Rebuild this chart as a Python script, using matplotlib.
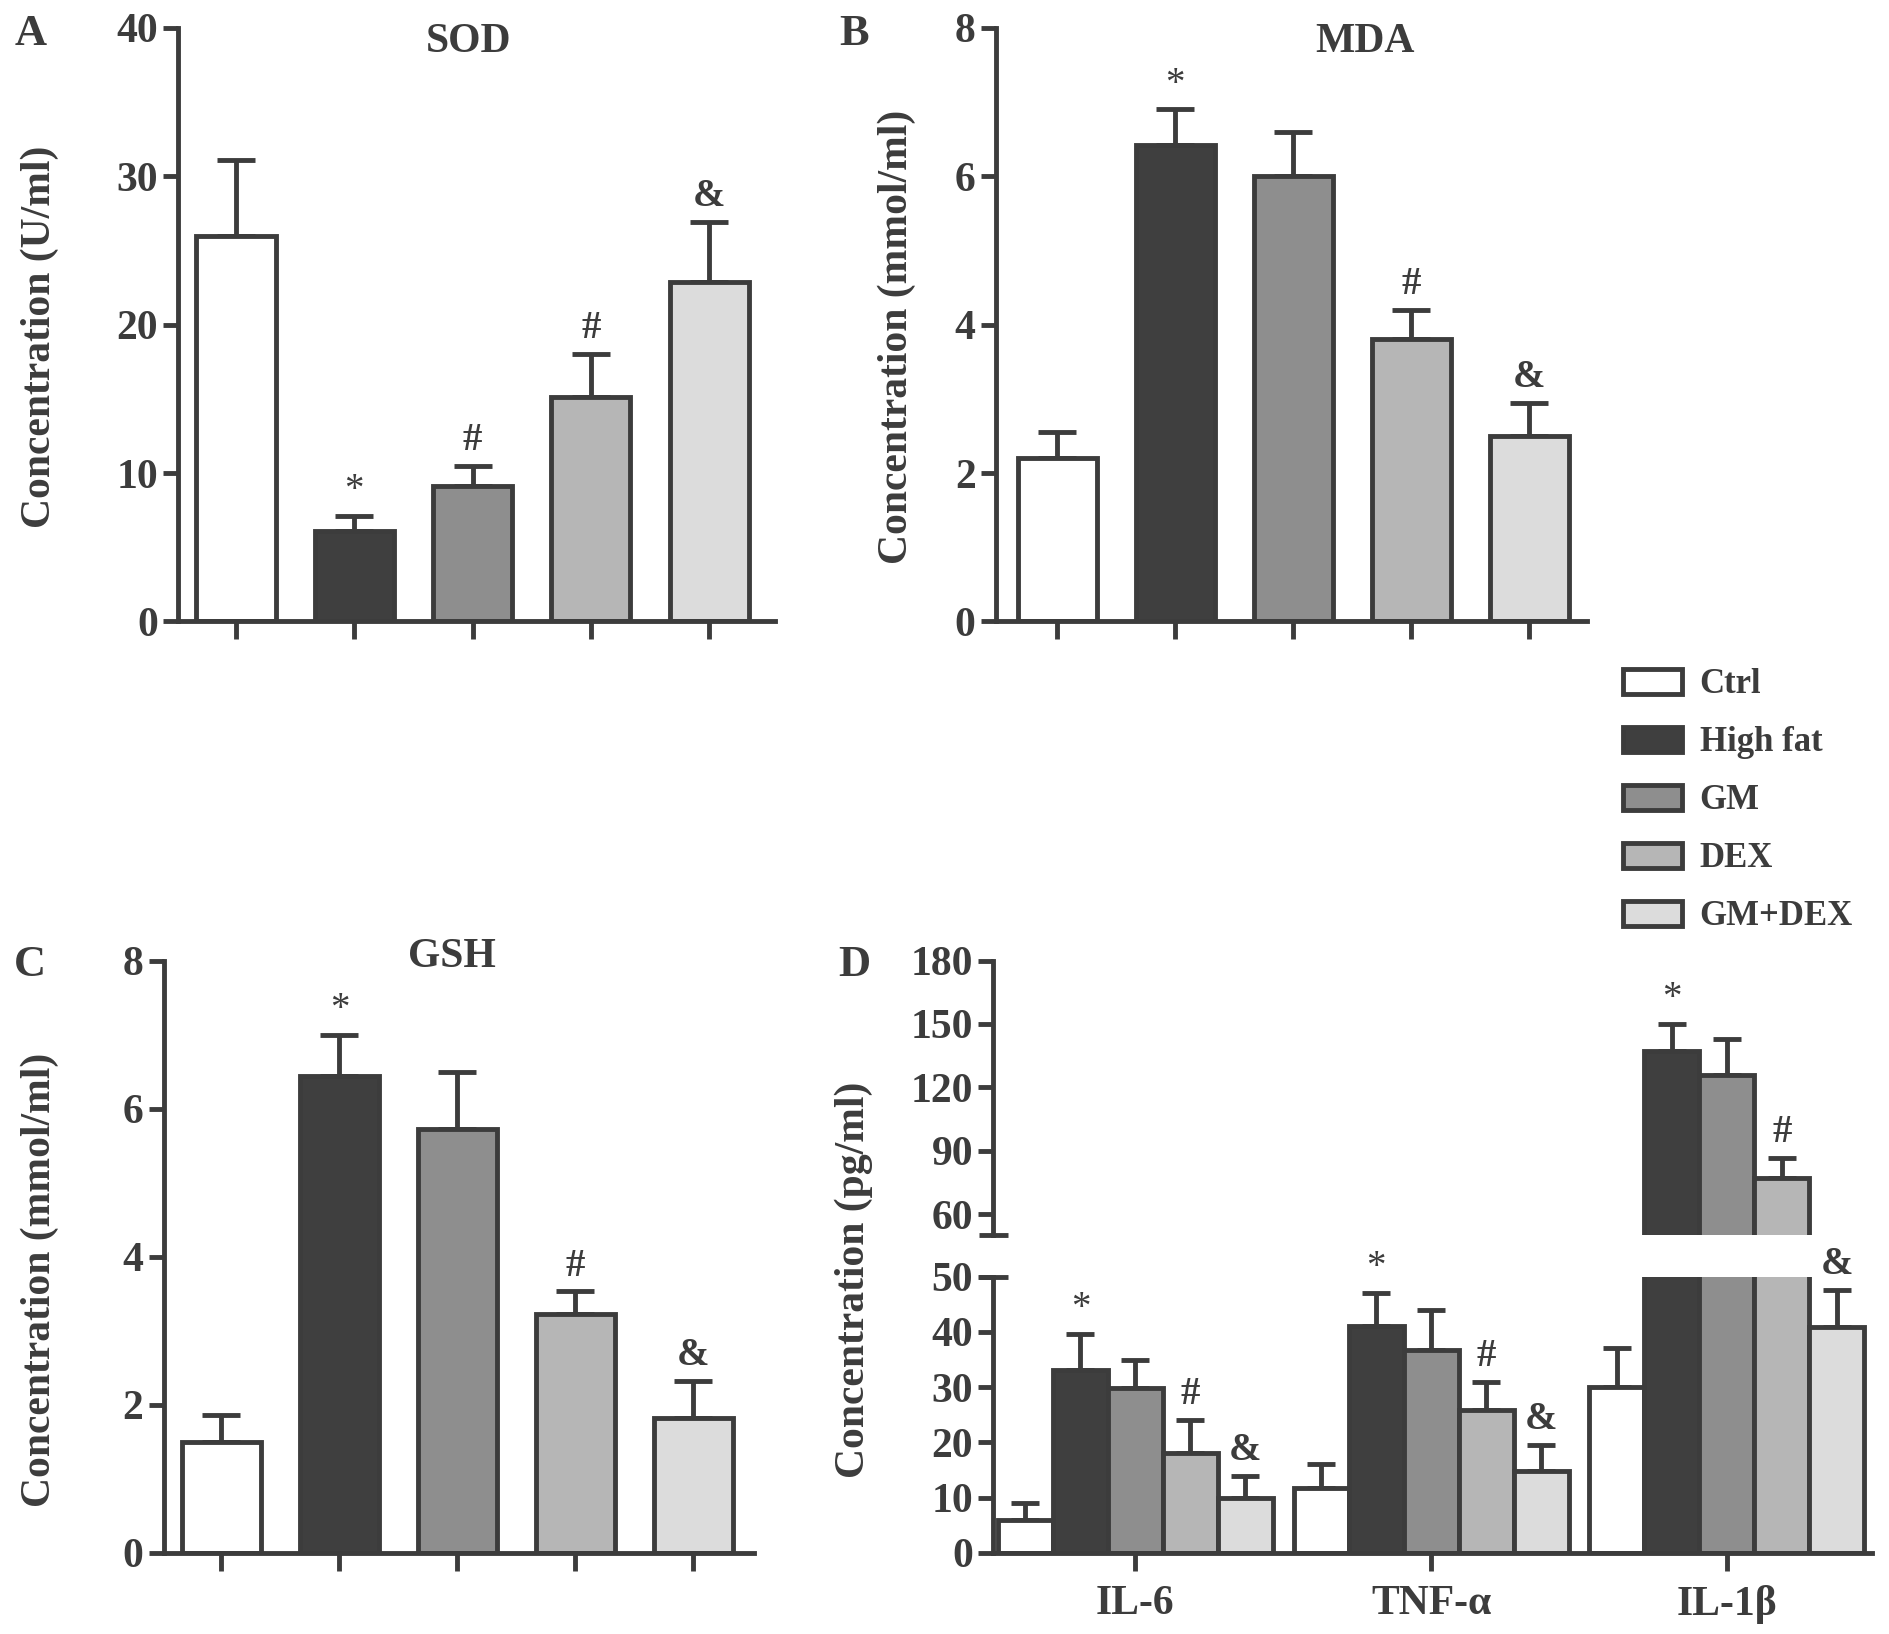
import matplotlib
matplotlib.use('Agg')
import matplotlib.pyplot as plt
from matplotlib.patches import Patch
import numpy as np

plt.rcParams['font.family'] = ['Liberation Serif', 'DejaVu Serif']
plt.rcParams['font.weight'] = 'bold'

INK = '#3c3c3c'

groups = ['Ctrl', 'High fat', 'GM', 'DEX', 'GM+DEX']
fills = ['#ffffff', '#3f3f3f', '#8e8e8e', '#b6b6b6', '#dcdcdc']

# panel A - SOD (U/ml)
sod_mean = [26.0, 6.1, 9.1, 15.1, 22.9]
sod_err = [5.1, 1.0, 1.4, 2.9, 4.0]
sod_marks = ['', '*', '#', '#', '&']

# panel B - MDA (mmol/ml)
mda_mean = [2.2, 6.42, 6.0, 3.8, 2.5]
mda_err = [0.35, 0.48, 0.6, 0.4, 0.45]
mda_marks = ['', '*', '', '#', '&']

# panel C - GSH (mmol/ml)
gsh_mean = [1.5, 6.44, 5.72, 3.22, 1.82]
gsh_err = [0.36, 0.56, 0.77, 0.31, 0.5]
gsh_marks = ['', '*', '', '#', '&']

# panel D - cytokines (pg/ml)
cyto = ['IL-6', 'TNF-α', 'IL-1β']
cyto_mean = {
    'Ctrl': [5.9, 11.8, 30.0],
    'High fat': [33.1, 41.0, 137.0],
    'GM': [29.8, 36.8, 126.0],
    'DEX': [18.0, 25.9, 77.0],
    'GM+DEX': [9.9, 14.9, 40.8],
}
cyto_err = {
    'Ctrl': [3.1, 4.2, 7.0],
    'High fat': [6.6, 6.0, 13.0],
    'GM': [5.2, 7.2, 17.0],
    'DEX': [6.0, 5.1, 9.7],
    'GM+DEX': [4.1, 4.6, 6.8],
}
cyto_marks = ['', '*', '', '#', '&']

W, H = 1560.0, 1349.0


def box(x0, x1, y_top, y_bot):
    return [x0 / W, 1 - y_bot / H, (x1 - x0) / W, (y_bot - y_top) / H]


def style_axis(ax, hide_bottom=False):
    for s in ['top', 'right']:
        ax.spines[s].set_visible(False)
    for s in ['left', 'bottom']:
        ax.spines[s].set_linewidth(3.5)
        ax.spines[s].set_color(INK)
    if hide_bottom:
        ax.spines['bottom'].set_visible(False)
    ax.tick_params(axis='both', colors=INK, width=3.5, length=11,
                   labelsize=30, direction='out')
    for lab in ax.get_yticklabels() + ax.get_xticklabels():
        lab.set_fontweight('bold')


def simple_panel(ax, means, errs, marks, ymax, step, cap=14):
    x = np.arange(len(means))
    ax.errorbar(x, means, yerr=[np.zeros(len(errs)), errs], fmt='none',
                ecolor=INK, elinewidth=3.5, capsize=cap, capthick=3.5, zorder=1)
    ax.bar(x, means, width=0.67, color=fills, edgecolor=INK, linewidth=3.5, zorder=2)
    for xi, m, e, s in zip(x, means, errs, marks):
        if s:
            ax.annotate(s, (xi, m + e), xytext=(0, 5), textcoords='offset points',
                        ha='center', va='bottom', fontsize=28, color=INK,
                        fontweight='bold' if s != '*' else 'normal')
    ax.set_ylim(0, ymax)
    ax.set_yticks(np.arange(0, ymax + step / 2, step))
    ax.set_xticks(x)
    ax.set_xticklabels([])
    style_axis(ax)
    ax.tick_params(axis='x', length=13)


fig = plt.figure(figsize=(18.9, 16.34), dpi=100)

axA = fig.add_axes(box(147, 640, 23, 513))
simple_panel(axA, sod_mean, sod_err, sod_marks, 40, 10)
axA.set_xlim(-0.49, 4.56)

axB = fig.add_axes(box(822, 1310, 23, 513))
simple_panel(axB, mda_mean, mda_err, mda_marks, 8, 2)
axB.set_xlim(-0.52, 4.49)

axC = fig.add_axes(box(135, 622, 793, 1282))
simple_panel(axC, gsh_mean, gsh_err, gsh_marks, 8, 2)
axC.set_xlim(-0.49, 4.51)

# panel D with broken y axis
axDl = fig.add_axes(box(820, 1545, 1054, 1282))
axDh = fig.add_axes(box(820, 1545, 793, 1020))
gx = np.arange(len(cyto))
bw = 0.186
for ax in (axDl, axDh):
    for i, g in enumerate(groups):
        xs = gx + (i - 2) * bw
        ax.errorbar(xs, cyto_mean[g], yerr=[np.zeros(3), cyto_err[g]], fmt='none',
                    ecolor=INK, elinewidth=3.5, capsize=10, capthick=3.5, zorder=1)
        ax.bar(xs, cyto_mean[g], width=bw, color=fills[i], edgecolor=INK,
               linewidth=3.5, zorder=2)
    ax.set_xlim(-0.48, 2.49)

axDl.set_ylim(0, 50)
axDl.set_yticks(np.arange(0, 51, 10))
axDl.set_xticks(gx)
axDl.set_xticklabels(cyto)
style_axis(axDl)
axDl.tick_params(axis='x', length=13, pad=10)

axDh.set_ylim(50, 180)
axDh.set_yticks(np.arange(60, 181, 30))
axDh.set_xticks([])
style_axis(axDh, hide_bottom=True)

# break marks at the ends of the two spine pieces
axDh.plot([-0.016, 0.016], [0, 0], transform=axDh.transAxes, color=INK,
          lw=3.5, clip_on=False, solid_capstyle='butt')
axDl.plot([-0.016, 0.016], [1, 1], transform=axDl.transAxes, color=INK,
          lw=3.5, clip_on=False, solid_capstyle='butt')

for i, g in enumerate(groups):
    s = cyto_marks[i]
    if not s:
        continue
    for j in range(3):
        xs = gx[j] + (i - 2) * bw
        top = cyto_mean[g][j] + cyto_err[g][j]
        ax = axDh if top > 50 else axDl
        ax.annotate(s, (xs, top), xytext=(0, 5), textcoords='offset points',
                    ha='center', va='bottom', fontsize=28, color=INK,
                    fontweight='bold' if s != '*' else 'normal',
                    annotation_clip=False)

# labels, titles, panel letters
ylab = dict(rotation=90, ha='center', va='center', fontsize=30,
            fontweight='bold', color=INK)
fig.text(33 / W, 1 - 278 / H, 'Concentration (U/ml)', **ylab)
fig.text(740 / W, 1 - 278 / H, 'Concentration (mmol/ml)', **ylab)
fig.text(33 / W, 1 - 1057 / H, 'Concentration (mmol/ml)', **ylab)
fig.text(705 / W, 1 - 1057 / H, 'Concentration (pg/ml)', **ylab)

tt = dict(ha='center', va='center', fontsize=30, fontweight='bold', color=INK)
fig.text(387 / W, 1 - 35 / H, 'SOD', **tt)
fig.text(1127 / W, 1 - 35 / H, 'MDA', **tt)
fig.text(373 / W, 1 - 790 / H, 'GSH', **tt)

lt = dict(ha='center', va='center', fontsize=32, fontweight='bold', color=INK)
fig.text(25 / W, 1 - 28 / H, 'A', **lt)
fig.text(705 / W, 1 - 28 / H, 'B', **lt)
fig.text(25 / W, 1 - 797 / H, 'C', **lt)
fig.text(705 / W, 1 - 797 / H, 'D', **lt)

handles = [Patch(facecolor=c, edgecolor=INK, linewidth=3.5) for c in fills]
leg = fig.legend(handles, groups, loc='upper left',
                 bbox_to_anchor=(1314 / W, 1 - 526 / H), frameon=False,
                 prop={'size': 25, 'weight': 'bold'}, handlelength=1.7,
                 handleheight=0.75, labelspacing=0.72, handletextpad=0.5)
for t in leg.get_texts():
    t.set_color(INK)

fig.savefig('out.png', dpi=100, facecolor='white')
